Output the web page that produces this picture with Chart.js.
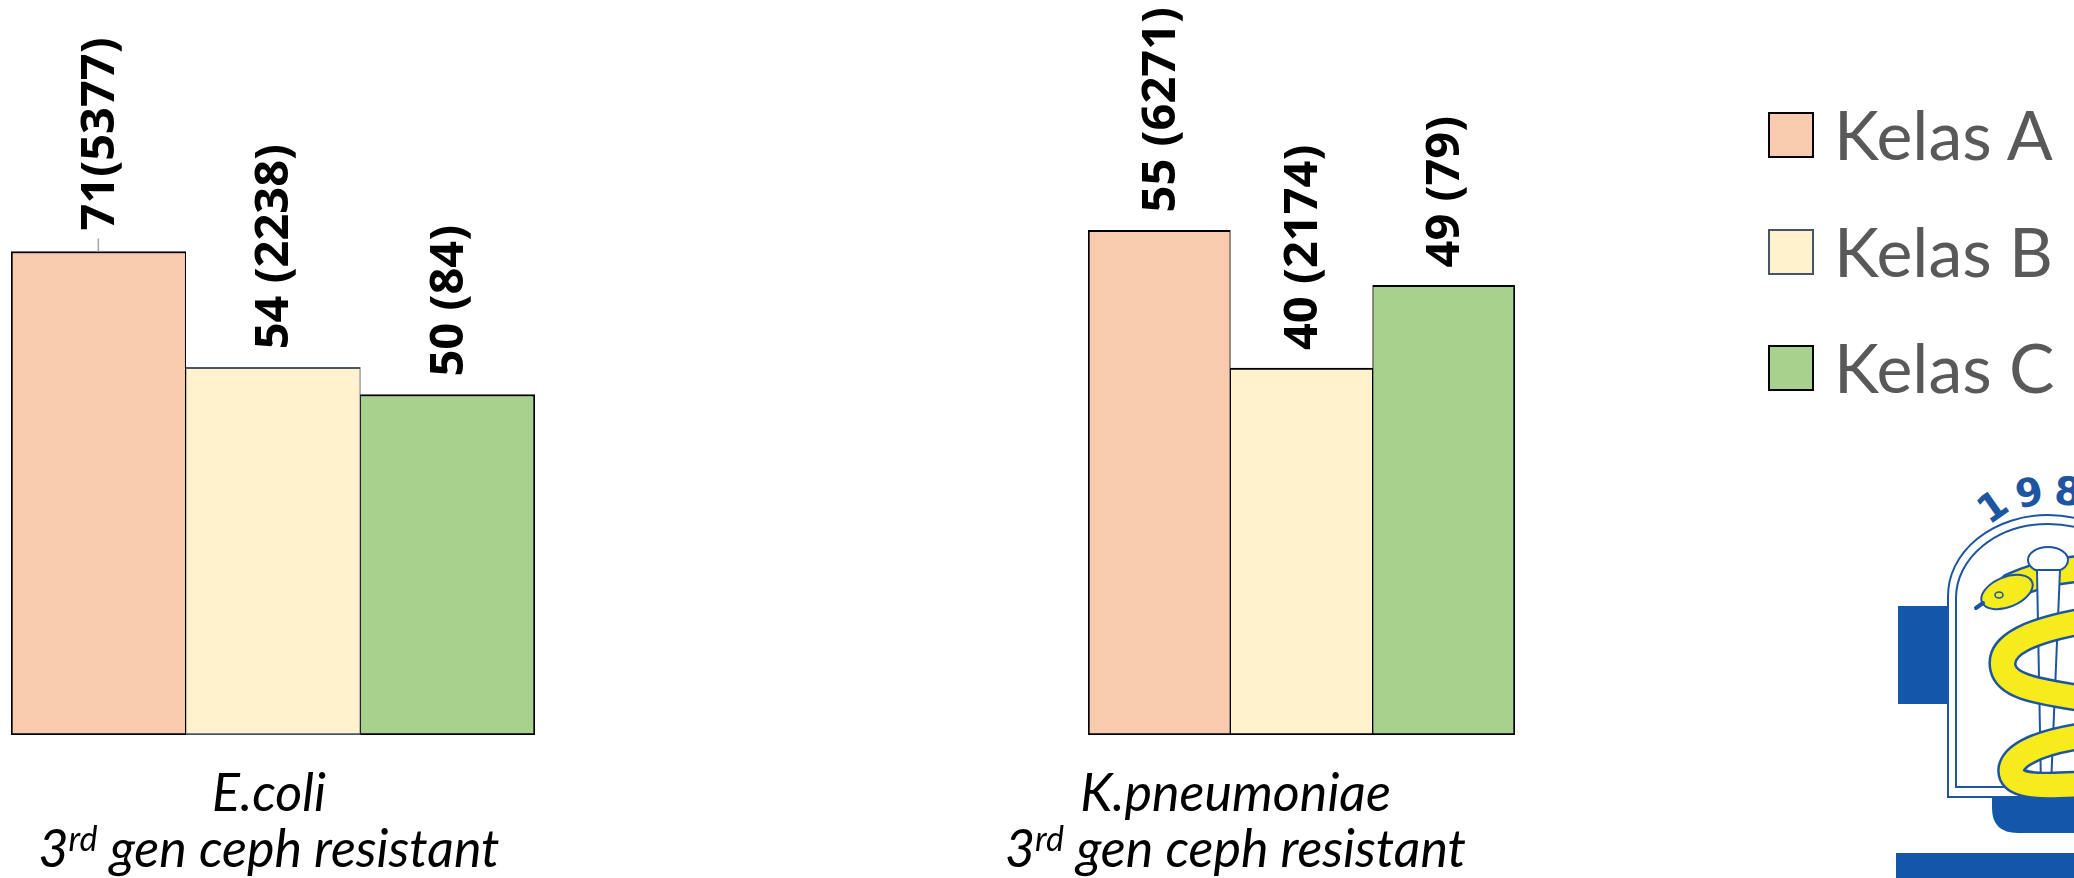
<!DOCTYPE html>
<html>
<head>
<meta charset="utf-8">
<script src="https://cdn.jsdelivr.net/npm/chart.js@4.4.1/dist/chart.umd.min.js"></script>
<style>
  html, body { margin: 0; padding: 0; background: #fff; }
  body { width: 2074px; height: 878px; position: relative; overflow: hidden; }
  canvas { position: absolute; top: 0; }
  #ecoliChart { left: 0; }
  #kpnChart { left: 1000px; }
  #legend { position: absolute; left: 1768px; top: 112px; font-family: Lato, "Open Sans", sans-serif; }
  #legend .item { display: flex; align-items: center; height: 46px; margin-bottom: 70.5px; }
  #legend .box { width: 46px; height: 46px; box-sizing: border-box; border: 2.5px solid #000; }
  #legend .txt { margin-left: 20px; font-size: 68px; line-height: 46px; color: #595959; white-space: nowrap; position: relative; top: -1px; }
  #logo { position: absolute; left: 1880px; top: 460px; }
</style>
</head>
<body>
<canvas id="ecoliChart" width="560" height="878"></canvas>
<canvas id="kpnChart" width="560" height="878"></canvas>
<div id="legend"></div>

<svg id="logo" width="194" height="418" viewBox="1880 460 194 418">
  <rect x="1898" y="606" width="52" height="98" fill="#1257a9"/>
  <path d="M1992,797 H2074 V833 H2018 Q1992,833 1992,808 Z" fill="#1257a9"/>
  <rect x="1896" y="853" width="178" height="25" fill="#1257a9"/>
  <path d="M1948,797 V596 A100,81 0 0 1 2148,596 V797 Z" fill="#fff" stroke="#1d55a0" stroke-width="2"/>
  <path d="M1956,787 V598 A92,74 0 0 1 2140,598 V787 Z" fill="none" stroke="#1d55a0" stroke-width="2"/>
  <g fill="#1d55a0" font-family="DejaVu Sans, sans-serif" font-weight="bold" font-size="39" text-anchor="middle">
    <text x="1992" y="520" transform="rotate(-35 1992 506)">1</text>
    <text x="2029" y="506" transform="rotate(-12 2029 492)">9</text>
    <text x="2068" y="505" transform="rotate(4 2068 491)">8</text>
  </g>
  <g fill="none" stroke-linecap="round">
    <path d="M2012,586 C2035,576 2055,570 2090,568" stroke="#1d55a0" stroke-width="28"/>
    <path d="M2012,586 C2035,576 2055,570 2090,568" stroke="#f5eb1d" stroke-width="23"/>
  </g>
  <ellipse cx="2048" cy="560" rx="20" ry="13" fill="#fff" stroke="#1d55a0" stroke-width="2"/>
  <polygon points="2037,570 2060,570 2051,786 2041,786" fill="#fff" stroke="#1d55a0" stroke-width="2"/>
  <g fill="none" stroke-linecap="butt">
    <path d="M2090,620 C2030,630 1998,645 2003,668 C2008,690 2050,692 2090,700" stroke="#1d55a0" stroke-width="28"/>
    <path d="M2090,620 C2030,630 1998,645 2003,668 C2008,690 2050,692 2090,700" stroke="#f5eb1d" stroke-width="23"/>
    <path d="M2090,735 C2035,742 2006,758 2012,775 C2018,789 2055,786 2090,784" stroke="#1d55a0" stroke-width="28"/>
    <path d="M2090,735 C2035,742 2006,758 2012,775 C2018,789 2055,786 2090,784" stroke="#f5eb1d" stroke-width="23"/>
  </g>
  <ellipse cx="2007" cy="592" rx="27" ry="15" transform="rotate(-22 2007 592)" fill="#f5eb1d" stroke="#1d55a0" stroke-width="2"/>
  <ellipse cx="1999" cy="595" rx="4" ry="3" fill="none" stroke="#1d55a0" stroke-width="1.5"/>
  <path d="M1983,603 L1976,608" stroke="#1d55a0" stroke-width="4" stroke-linecap="round"/>
</svg>

<script>
// resistance (%) per hospital class, with isolate counts in brackets
const classes = ['Kelas A', 'Kelas B', 'Kelas C'];

const ecoliName = 'E.coli';
const ecoliPct = [71, 54, 50];
const ecoliN = [5377, 2238, 84];
const ecoliSep = ['', ' ', ' '];

const kpnName = 'K.pneumoniae';
const kpnPct = [55, 40, 49];
const kpnN = [6271, 2174, 79];
const kpnSep = [' ', ' ', ' '];

const subLine = ['3', 'rd', ' gen ceph resistant'];

const fills = ['#f8cbad', '#fff2cc', '#a9d18e'];

// rotated value labels above each bar
const valueLabels = {
  id: 'valueLabels',
  afterDatasetsDraw(chart, args, opts) {
    const ctx = chart.ctx;
    ctx.save();
    ctx.font = 'bold 47px "Open Sans", sans-serif';
    ctx.fillStyle = '#000';
    ctx.textAlign = 'left';
    ctx.textBaseline = 'middle';
    chart.data.datasets.forEach((ds, i) => {
      const bar = chart.getDatasetMeta(i).data[0];
      const lead = opts.leaders && opts.leaders[i];
      const gap = lead ? 21 : 18;
      if (lead) {
        ctx.strokeStyle = '#a6a6a6';
        ctx.lineWidth = 1.5;
        ctx.beginPath();
        ctx.moveTo(bar.x, bar.y);
        ctx.lineTo(bar.x, bar.y - 13);
        ctx.stroke();
      }
      ctx.save();
      ctx.translate(bar.x + 2, bar.y - gap);
      ctx.rotate(-Math.PI / 2);
      ctx.fillText(ds.label2, 0, 0);
      ctx.restore();
    });
    ctx.restore();
  }
};

// italic organism name + subtitle under the bar group
const groupTitle = {
  id: 'groupTitle',
  afterDraw(chart, args, opts) {
    const ctx = chart.ctx;
    const cx = chart.scales.x.getPixelForValue(0) + opts.shift;
    const big = 'italic 52px Lato, sans-serif';
    const small = 'italic 34px Lato, sans-serif';
    ctx.save();
    ctx.fillStyle = '#000';
    ctx.textBaseline = 'alphabetic';
    ctx.textAlign = 'center';
    ctx.font = big;
    ctx.fillText(chart.data.labels[0], cx, 811);

    const w0 = ctx.measureText(subLine[0]).width;
    const w2 = ctx.measureText(subLine[2]).width;
    ctx.font = small;
    const w1 = ctx.measureText(subLine[1]).width;
    let x = cx - (w0 + w1 + w2) / 2;
    ctx.textAlign = 'left';
    ctx.font = big;
    ctx.fillText(subLine[0], x, 867);
    x += w0;
    ctx.font = small;
    ctx.fillText(subLine[1], x, 851);
    x += w1;
    ctx.font = big;
    ctx.fillText(subLine[2], x, 867);
    ctx.restore();
  }
};

// legend built as html from the first chart's datasets
const htmlLegend = {
  id: 'htmlLegend',
  afterUpdate(chart) {
    const box = document.getElementById('legend');
    box.innerHTML = '';
    const items = chart.options.plugins.legend.labels.generateLabels(chart);
    items.forEach(item => {
      const row = document.createElement('div');
      row.className = 'item';
      const sw = document.createElement('span');
      sw.className = 'box';
      sw.style.background = item.fillStyle;
      sw.style.borderColor = item.strokeStyle;
      const t = document.createElement('span');
      t.className = 'txt';
      t.textContent = item.text;
      row.appendChild(sw);
      row.appendChild(t);
      box.appendChild(row);
    });
  }
};

function makeChart(id, name, pct, counts, seps, cfg) {
  const datasets = classes.map((c, i) => ({
    label: c,
    label2: pct[i] + seps[i] + '(' + counts[i] + ')',
    data: [pct[i]],
    backgroundColor: fills[i],
    borderColor: cfg.borders[i],
    borderWidth: {
      top: 2, bottom: 2,
      left: i === 0 ? 2 : 1,
      right: i === classes.length - 1 ? 2 : 1
    },
    borderSkipped: false
  }));
  const plugins = [valueLabels, groupTitle];
  if (cfg.legend) plugins.push(htmlLegend);
  return new Chart(document.getElementById(id), {
    type: 'bar',
    data: { labels: [name], datasets: datasets },
    options: {
      responsive: false,
      animation: false,
      devicePixelRatio: 1,
      layout: { padding: cfg.padding },
      datasets: { bar: { categoryPercentage: 1, barPercentage: 1 } },
      scales: {
        x: { display: false },
        y: { display: false, min: 0, max: cfg.max }
      },
      plugins: {
        legend: { display: false },
        tooltip: { enabled: false },
        valueLabels: { leaders: cfg.leaders || [] },
        groupTitle: { shift: cfg.shift }
      }
    },
    plugins: plugins
  });
}

makeChart('ecoliChart', ecoliName, ecoliPct, ecoliN, ecoliSep, {
  max: 100,
  padding: { left: 11, right: 25, top: 54, bottom: 143 },
  borders: ['#000000', '#44546a', '#000000'],
  leaders: [true, false, false],
  shift: -4,
  legend: true
});

makeChart('kpnChart', kpnName, kpnPct, kpnN, kpnSep, {
  max: 80,
  padding: { left: 88, right: 45, top: 1, bottom: 143 },
  borders: ['#000000', '#000000', '#000000'],
  shift: -66,
  legend: false
});
</script>
</body>
</html>
